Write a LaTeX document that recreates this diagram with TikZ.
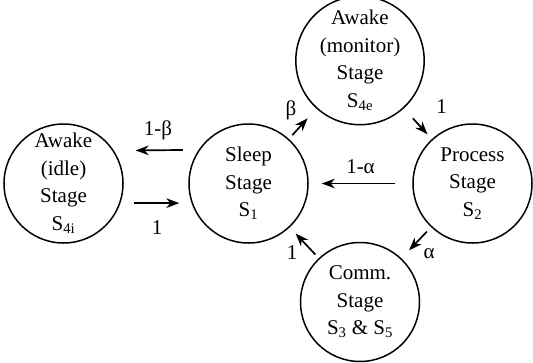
\documentclass[tikz,border=0pt]{standalone}
\usepackage{fontspec}
\setmainfont{Liberation Serif}
\usetikzlibrary{arrows.meta}
\begin{document}
\begin{tikzpicture}[x=1pt,y=1pt,
  stage/.style={circle,draw,line width=1.5pt,minimum size=119pt,inner sep=0pt,align=center,
    font=\fontsize{21}{27.5}\selectfont},
  arr/.style={line width=1.7pt,-{Stealth[length=13pt,width=9.5pt,inset=4pt]}},
  lbl/.style={font=\fontsize{21}{24}\selectfont,inner sep=0pt}]
\useasboundingbox (0,0) rectangle (533,-362);
\node[stage] (idle) at (63.5,-183.5) {Awake\\(idle)\\Stage\\S\textsubscript{4i}};
\node[stage] (sleep) at (248.5,-183.5) {Sleep\\Stage\\S\textsubscript{1}};
\node[stage] (mon) at (360,-60.5) {Awake\\(monitor)\\Stage\\S\textsubscript{4e}};
\node[stage] (proc) at (472.5,-183.5) {Process\\Stage\\S\textsubscript{2}};
\node[stage] (comm) at (360,-302) {Comm.\\Stage\\S\textsubscript{3} \& S\textsubscript{5}};
\draw[arr,shorten <=15.6pt,shorten >=21.6pt] (sleep.146.9) -- (idle.33.1);
\draw[arr,shorten <=13.2pt,shorten >=12.2pt] (idle.-19.1) -- (sleep.199.1);
\draw[arr,shorten <=17pt,shorten >=13pt] (proc.west) -- (sleep.east);
\draw[arr,shorten <=5pt,shorten >=13pt] (sleep) -- (mon);
\draw[arr,shorten <=13.4pt,shorten >=6.4pt] (mon) -- (proc);
\draw[arr,shorten <=6pt,shorten >=11pt] (proc) -- (comm);
\draw[arr,shorten <=5pt,shorten >=8.4pt] (comm) -- (sleep);
\node[lbl] (l1) at (158,-130) {1-β};
\node[lbl] (l2) at (157,-228) {1};
\node[lbl] (l3) at (360.5,-167) {1-α};
\node[lbl] (l4) at (291,-110.5) {β};
\node[lbl] (l5) at (441.5,-107) {1};
\node[lbl] (l6) at (429,-254) {α};
\node[lbl] (l7) at (292,-253) {1};
\end{tikzpicture}
\end{document}
